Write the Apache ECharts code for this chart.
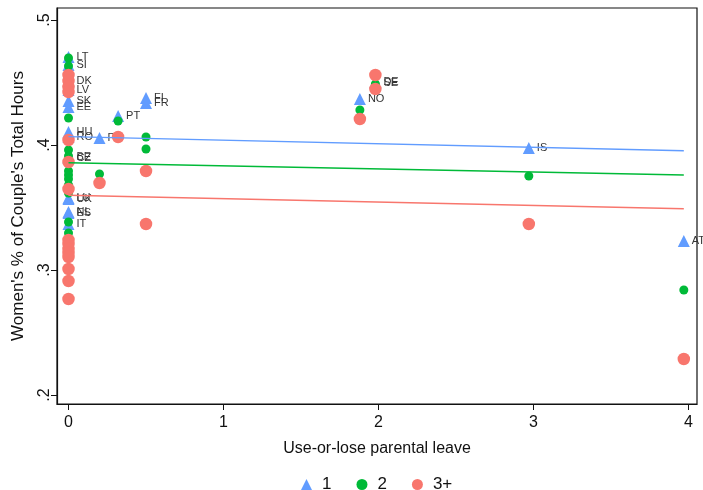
<!DOCTYPE html>
<html>
<head>
<meta charset="utf-8">
<script src="https://cdn.jsdelivr.net/npm/echarts@6/dist/echarts.min.js"></script>
<style>
  html, body { margin: 0; padding: 0; background: #fff; }
  #chart { width: 703px; height: 490px; }
</style>
</head>
<body>
<div id="chart"></div>
<script>
// Countries (labels drawn next to the one-child markers)
const countries = ['LT','SI','DK','LV','SK','EE','HU','RO','BE','CZ','LU','UK','NL','ES','IT',
                   'PL','PT','FI','FR','NO','DE','SE','IS','AT'];
// Months of use-or-lose parental leave, per country
const leave = [0,0,0,0,0,0,0,0,0,0,0,0,0,0,0,
               0.2,0.32,0.5,0.5,1.88,1.98,1.98,2.97,3.97];

// Women's share of the couple's total hours, by number of children
const share1 = [0.4704,0.4640,0.4512,0.4440,0.4352,0.4304,0.4104,0.4064,0.3904,0.3896,0.3576,0.3568,0.3464,0.3456,0.3368,
                0.4056,0.4232,0.4376,0.4336,0.4368,0.4504,0.4496,0.3976,0.3232];
const share2 = [0.4696,0.4632,0.4488,0.4216,0.3960,0.3912,0.3872,0.3792,0.3760,0.3728,0.3680,0.3640,0.3616,0.3384,0.3296,
                0.3768,0.4192,0.4064,0.3968,0.4280,0.4488,0.4472,0.3752,0.2840];
const share3 = [0.4560,0.4512,0.4464,0.4424,0.4040,0.3864,0.3648,0.3240,0.3208,0.3168,0.3136,0.3104,0.3008,0.2912,0.2768,
                0.3696,0.4064,0.3792,0.3368,0.4208,0.4560,0.4448,0.3368,0.2288];

// Linear fit endpoints (x from 0 to the largest leave value)
const fitX  = [0, 3.97];
const fit1  = [0.4067, 0.3954];
const fit2  = [0.3858, 0.3760];
const fit3  = [0.3598, 0.3490];

const groupNames = ['1', '2', '3+'];
const xTicks = [0, 1, 2, 3, 4];
const yTicks = [0.2, 0.3, 0.4, 0.5];

const C1 = '#619CFF', C2 = '#00BA38', C3 = '#F8766D';
const FONT = '"Liberation Sans", Arial, sans-serif';

const pts = (ys, withNames) => ys.map((y, i) => withNames
  ? { name: countries[i], value: [leave[i], y] }
  : [leave[i], y]);
const fit = ys => fitX.map((x, i) => [x, ys[i]]);

const chart = echarts.init(document.getElementById('chart'), null, { renderer: 'canvas' });
chart.setOption({
  animation: false,
  textStyle: { fontFamily: FONT },
  grid: {
    left: 57, right: 6, top: 8, bottom: 86,
    show: true, borderColor: '#111', borderWidth: 1.2, backgroundColor: '#fff'
  },
  legend: {
    top: 471, left: 296,
    itemGap: 25, itemWidth: 11, itemHeight: 11,
    textStyle: { fontFamily: FONT, fontSize: 17, color: '#111', padding: [0, 0, 0, 5] },
    data: [
      { name: groupNames[0], icon: 'triangle' },
      { name: groupNames[1], icon: 'circle' },
      { name: groupNames[2], icon: 'circle' }
    ]
  },
  xAxis: {
    type: 'value', min: -0.0742, max: 4.055,
    name: 'Use-or-lose parental leave', nameLocation: 'middle', nameGap: 37,
    nameTextStyle: { fontFamily: FONT, fontSize: 16, color: '#111' },
    axisLine: { show: true, onZero: false, lineStyle: { color: '#111', width: 1.2 } },
    axisTick: { show: true, length: 6, customValues: xTicks, lineStyle: { color: '#111' } },
    axisLabel: { customValues: xTicks, fontSize: 16, color: '#111', margin: 11,
                 fontFamily: FONT, formatter: v => String(v) },
    splitLine: { show: false }
  },
  yAxis: {
    type: 'value', min: 0.1928, max: 0.5096,
    name: "Women's % of Couple's Total Hours", nameLocation: 'middle', nameGap: 30,
    nameRotate: 90,
    nameTextStyle: { fontFamily: FONT, fontSize: 17, color: '#111' },
    axisLine: { show: true, onZero: false, lineStyle: { color: '#111', width: 1.2 } },
    axisTick: { show: true, length: 6, customValues: yTicks, lineStyle: { color: '#111' } },
    axisLabel: { customValues: yTicks, rotate: 90, fontSize: 16, color: '#111', margin: 4,
                 fontFamily: FONT, formatter: v => String(v).replace(/^0/, '') },
    splitLine: { show: false }
  },
  series: [
    {
      name: groupNames[0], type: 'scatter', z: 2,
      symbol: 'triangle', symbolSize: 12,
      itemStyle: { color: C1, opacity: 1 },
      label: { show: true, position: 'right', distance: 2, formatter: '{b}',
               fontSize: 11, color: '#333', fontFamily: FONT },
      data: pts(share1, true)
    },
    {
      name: groupNames[1], type: 'scatter', z: 3,
      symbol: 'circle', symbolSize: 9,
      itemStyle: { color: C2, opacity: 1 },
      data: pts(share2, false)
    },
    {
      name: groupNames[2], type: 'scatter', z: 4,
      symbol: 'circle', symbolSize: 12.5,
      itemStyle: { color: C3, opacity: 1 },
      data: pts(share3, false)
    },
    { name: 'fit1', type: 'line', z: 5, symbol: 'none', silent: true,
      lineStyle: { color: C1, width: 1.4 }, data: fit(fit1) },
    { name: 'fit2', type: 'line', z: 5, symbol: 'none', silent: true,
      lineStyle: { color: C2, width: 1.4 }, data: fit(fit2) },
    { name: 'fit3', type: 'line', z: 5, symbol: 'none', silent: true,
      lineStyle: { color: C3, width: 1.4 }, data: fit(fit3) }
  ]
});
</script>
</body>
</html>
